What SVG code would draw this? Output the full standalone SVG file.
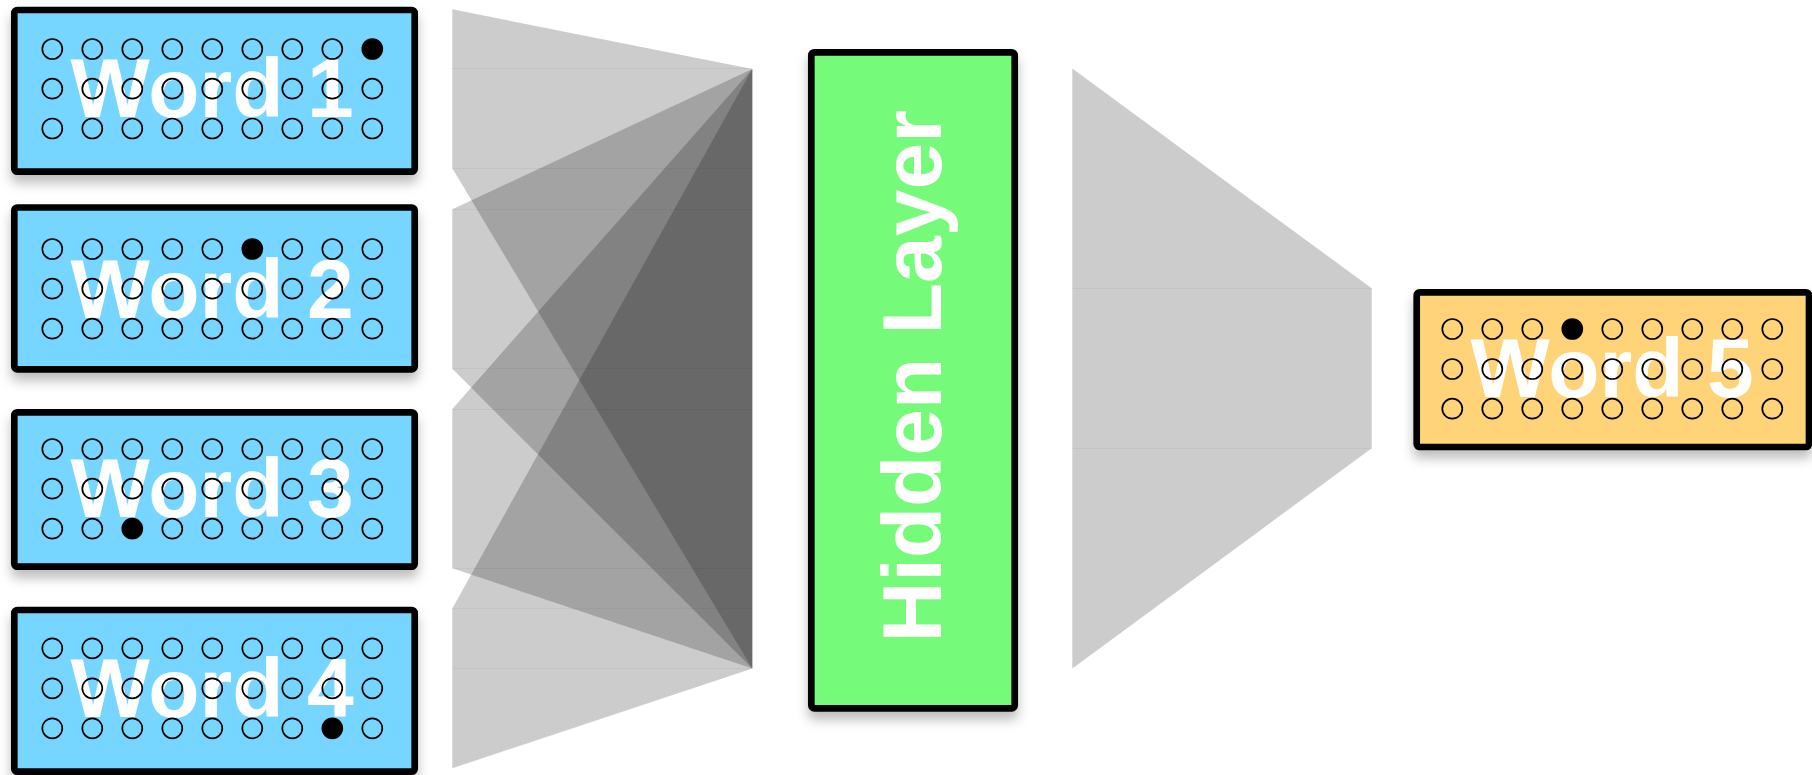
<svg xmlns="http://www.w3.org/2000/svg" width="1812" height="775" viewBox="0 0 1812 775">
<defs>
<filter id="sh" x="-10%" y="-20%" width="120%" height="150%">
<feDropShadow dx="0" dy="8" stdDeviation="6" flood-color="#000" flood-opacity="0.26"/>
</filter>
<style>
.fan{fill:#000;fill-opacity:0.2;stroke:none}
.seam{stroke:#000;stroke-opacity:0.05;stroke-width:1;fill:none}
.box{stroke:#000;stroke-width:6.7;filter:url(#sh)}
.blue{fill:#76D6FF}
.orange{fill:#FFD479}
.green{fill:#76FA7A}
.lbl{font-family:"Liberation Sans",Arial,sans-serif;font-weight:bold;font-size:84px;fill:#fff}
.o{fill:none;stroke:#000;stroke-width:1.7}
.f{fill:#000;stroke:#000;stroke-width:1.7}
</style>
</defs>
<rect width="1812" height="775" fill="#fff"/>

<g id="connectors">
<!-- Word1 -> hidden -->
<polygon class="fan" points="452.3,9.3 752.3,69 452.3,69"/>
<polygon class="fan" points="452.3,69 752.3,69 752.3,168.3 452.3,168.3"/>
<polygon class="fan" points="452.3,168.3 752.3,168.3 752.3,668.5"/>
<!-- Word2 -> hidden -->
<polygon class="fan" points="452.3,209.3 752.3,69 752.3,209.3"/>
<polygon class="fan" points="452.3,209.3 752.3,209.3 752.3,368.8 452.3,368.8"/>
<polygon class="fan" points="452.3,368.8 752.3,368.8 752.3,668.5"/>
<!-- Word3 -> hidden -->
<polygon class="fan" points="452.3,409 752.3,69 752.3,409"/>
<polygon class="fan" points="452.3,409 752.3,409 752.3,568.3 452.3,568.3"/>
<polygon class="fan" points="452.3,568.3 752.3,568.3 752.3,668.5"/>
<!-- Word4 -> hidden -->
<polygon class="fan" points="452.3,608.5 752.3,69 752.3,608.5"/>
<polygon class="fan" points="452.3,608.5 752.3,608.5 752.3,668.5 452.3,668.5"/>
<polygon class="fan" points="452.3,668.5 752.3,668.5 452.3,768.3"/>
<!-- hidden -> Word5 -->
<polygon class="fan" points="1072.3,68.6 1371.7,288.3 1072.3,288.3"/>
<polygon class="fan" points="1072.3,288.3 1371.7,288.3 1371.7,448.3 1072.3,448.3"/>
<polygon class="fan" points="1072.3,448.3 1371.7,448.3 1072.3,668.5"/>
<!-- faint seams -->
<path class="seam" d="M452.3,68.5H752.3M452.3,168.5H752.3M452.3,209.5H752.3M452.3,368.5H752.3M452.3,409.5H752.3M452.3,568.5H752.3M452.3,608.5H752.3M452.3,668.5H752.3M1072.3,288.5H1371.7M1072.3,448.5H1371.7"/>
</g>

<g id="word1">
<rect class="box blue" x="14.3" y="10" width="400.4" height="161.7" rx="3"/>
<text class="lbl" x="70.5" y="117">Word 1</text>
<g transform="translate(52.3,49)">
<circle class="o" cx="0" cy="0" r="10"/><circle class="o" cx="40" cy="0" r="10"/><circle class="o" cx="80" cy="0" r="10"/><circle class="o" cx="120" cy="0" r="10"/><circle class="o" cx="160" cy="0" r="10"/><circle class="o" cx="200" cy="0" r="10"/><circle class="o" cx="240" cy="0" r="10"/><circle class="o" cx="280" cy="0" r="10"/><circle class="f" cx="320" cy="0" r="10"/>
<circle class="o" cx="0" cy="39.7" r="10"/><circle class="o" cx="40" cy="39.7" r="10"/><circle class="o" cx="80" cy="39.7" r="10"/><circle class="o" cx="120" cy="39.7" r="10"/><circle class="o" cx="160" cy="39.7" r="10"/><circle class="o" cx="200" cy="39.7" r="10"/><circle class="o" cx="240" cy="39.7" r="10"/><circle class="o" cx="280" cy="39.7" r="10"/><circle class="o" cx="320" cy="39.7" r="10"/>
<circle class="o" cx="0" cy="79.5" r="10"/><circle class="o" cx="40" cy="79.5" r="10"/><circle class="o" cx="80" cy="79.5" r="10"/><circle class="o" cx="120" cy="79.5" r="10"/><circle class="o" cx="160" cy="79.5" r="10"/><circle class="o" cx="200" cy="79.5" r="10"/><circle class="o" cx="240" cy="79.5" r="10"/><circle class="o" cx="280" cy="79.5" r="10"/><circle class="o" cx="320" cy="79.5" r="10"/>
</g>
</g>

<g id="word2">
<rect class="box blue" x="14.3" y="207.5" width="400.4" height="161.8" rx="3"/>
<text class="lbl" x="70.5" y="317.7">Word 2</text>
<g transform="translate(52.3,249)">
<circle class="o" cx="0" cy="0" r="10"/><circle class="o" cx="40" cy="0" r="10"/><circle class="o" cx="80" cy="0" r="10"/><circle class="o" cx="120" cy="0" r="10"/><circle class="o" cx="160" cy="0" r="10"/><circle class="f" cx="200" cy="0" r="10"/><circle class="o" cx="240" cy="0" r="10"/><circle class="o" cx="280" cy="0" r="10"/><circle class="o" cx="320" cy="0" r="10"/>
<circle class="o" cx="0" cy="39.7" r="10"/><circle class="o" cx="40" cy="39.7" r="10"/><circle class="o" cx="80" cy="39.7" r="10"/><circle class="o" cx="120" cy="39.7" r="10"/><circle class="o" cx="160" cy="39.7" r="10"/><circle class="o" cx="200" cy="39.7" r="10"/><circle class="o" cx="240" cy="39.7" r="10"/><circle class="o" cx="280" cy="39.7" r="10"/><circle class="o" cx="320" cy="39.7" r="10"/>
<circle class="o" cx="0" cy="79.7" r="10"/><circle class="o" cx="40" cy="79.7" r="10"/><circle class="o" cx="80" cy="79.7" r="10"/><circle class="o" cx="120" cy="79.7" r="10"/><circle class="o" cx="160" cy="79.7" r="10"/><circle class="o" cx="200" cy="79.7" r="10"/><circle class="o" cx="240" cy="79.7" r="10"/><circle class="o" cx="280" cy="79.7" r="10"/><circle class="o" cx="320" cy="79.7" r="10"/>
</g>
</g>

<g id="word3">
<rect class="box blue" x="14.3" y="412.3" width="400.4" height="154.4" rx="3"/>
<text class="lbl" x="70.5" y="516.7">Word 3</text>
<g transform="translate(52.3,449)">
<circle class="o" cx="0" cy="0" r="10"/><circle class="o" cx="40" cy="0" r="10"/><circle class="o" cx="80" cy="0" r="10"/><circle class="o" cx="120" cy="0" r="10"/><circle class="o" cx="160" cy="0" r="10"/><circle class="o" cx="200" cy="0" r="10"/><circle class="o" cx="240" cy="0" r="10"/><circle class="o" cx="280" cy="0" r="10"/><circle class="o" cx="320" cy="0" r="10"/>
<circle class="o" cx="0" cy="39.7" r="10"/><circle class="o" cx="40" cy="39.7" r="10"/><circle class="o" cx="80" cy="39.7" r="10"/><circle class="o" cx="120" cy="39.7" r="10"/><circle class="o" cx="160" cy="39.7" r="10"/><circle class="o" cx="200" cy="39.7" r="10"/><circle class="o" cx="240" cy="39.7" r="10"/><circle class="o" cx="280" cy="39.7" r="10"/><circle class="o" cx="320" cy="39.7" r="10"/>
<circle class="o" cx="0" cy="79.7" r="10"/><circle class="o" cx="40" cy="79.7" r="10"/><circle class="f" cx="80" cy="79.7" r="10"/><circle class="o" cx="120" cy="79.7" r="10"/><circle class="o" cx="160" cy="79.7" r="10"/><circle class="o" cx="200" cy="79.7" r="10"/><circle class="o" cx="240" cy="79.7" r="10"/><circle class="o" cx="280" cy="79.7" r="10"/><circle class="o" cx="320" cy="79.7" r="10"/>
</g>
</g>

<g id="word4">
<rect class="box blue" x="14.3" y="610" width="400.4" height="161.7" rx="3"/>
<text class="lbl" x="70.5" y="716.7">Word 4</text>
<g transform="translate(52.3,648.3)">
<circle class="o" cx="0" cy="0" r="10"/><circle class="o" cx="40" cy="0" r="10"/><circle class="o" cx="80" cy="0" r="10"/><circle class="o" cx="120" cy="0" r="10"/><circle class="o" cx="160" cy="0" r="10"/><circle class="o" cx="200" cy="0" r="10"/><circle class="o" cx="240" cy="0" r="10"/><circle class="o" cx="280" cy="0" r="10"/><circle class="o" cx="320" cy="0" r="10"/>
<circle class="o" cx="0" cy="40" r="10"/><circle class="o" cx="40" cy="40" r="10"/><circle class="o" cx="80" cy="40" r="10"/><circle class="o" cx="120" cy="40" r="10"/><circle class="o" cx="160" cy="40" r="10"/><circle class="o" cx="200" cy="40" r="10"/><circle class="o" cx="240" cy="40" r="10"/><circle class="o" cx="280" cy="40" r="10"/><circle class="o" cx="320" cy="40" r="10"/>
<circle class="o" cx="0" cy="80" r="10"/><circle class="o" cx="40" cy="80" r="10"/><circle class="o" cx="80" cy="80" r="10"/><circle class="o" cx="120" cy="80" r="10"/><circle class="o" cx="160" cy="80" r="10"/><circle class="o" cx="200" cy="80" r="10"/><circle class="o" cx="240" cy="80" r="10"/><circle class="f" cx="280" cy="80" r="10"/><circle class="o" cx="320" cy="80" r="10"/>
</g>
</g>

<g id="hidden">
<rect class="box green" x="811.3" y="52.3" width="203.4" height="656" rx="3"/>
<text class="lbl" text-anchor="middle" transform="translate(940.7,376.2) rotate(-90)">Hidden Layer</text>
</g>

<g id="word5">
<rect class="box orange" x="1416.7" y="292.3" width="392.3" height="154.7" rx="3"/>
<text class="lbl" x="1470.5" y="396.7">Word 5</text>
<g transform="translate(1452.3,329)">
<circle class="o" cx="0" cy="0" r="10"/><circle class="o" cx="40" cy="0" r="10"/><circle class="o" cx="80" cy="0" r="10"/><circle class="f" cx="120" cy="0" r="10"/><circle class="o" cx="160" cy="0" r="10"/><circle class="o" cx="200" cy="0" r="10"/><circle class="o" cx="240" cy="0" r="10"/><circle class="o" cx="280" cy="0" r="10"/><circle class="o" cx="320" cy="0" r="10"/>
<circle class="o" cx="0" cy="40" r="10"/><circle class="o" cx="40" cy="40" r="10"/><circle class="o" cx="80" cy="40" r="10"/><circle class="o" cx="120" cy="40" r="10"/><circle class="o" cx="160" cy="40" r="10"/><circle class="o" cx="200" cy="40" r="10"/><circle class="o" cx="240" cy="40" r="10"/><circle class="o" cx="280" cy="40" r="10"/><circle class="o" cx="320" cy="40" r="10"/>
<circle class="o" cx="0" cy="79.7" r="10"/><circle class="o" cx="40" cy="79.7" r="10"/><circle class="o" cx="80" cy="79.7" r="10"/><circle class="o" cx="120" cy="79.7" r="10"/><circle class="o" cx="160" cy="79.7" r="10"/><circle class="o" cx="200" cy="79.7" r="10"/><circle class="o" cx="240" cy="79.7" r="10"/><circle class="o" cx="280" cy="79.7" r="10"/><circle class="o" cx="320" cy="79.7" r="10"/>
</g>
</g>
</svg>
